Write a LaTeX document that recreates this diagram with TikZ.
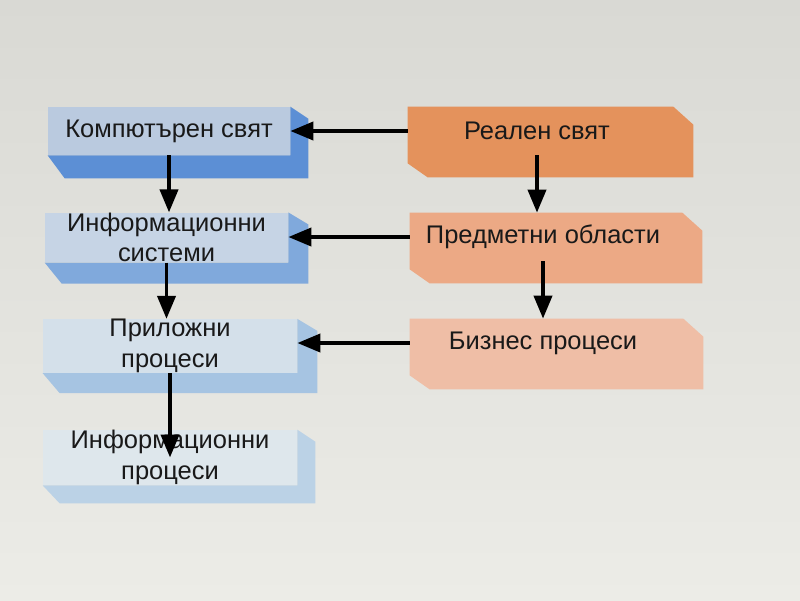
\documentclass[tikz,border=0pt]{standalone}
\usepackage{fontspec}
\setmainfont{Liberation Sans}
\usetikzlibrary{calc,arrows.meta,backgrounds}

\definecolor{bgtop}{HTML}{D9D9D4}
\definecolor{bgbot}{HTML}{ECECE7}
\definecolor{faceA}{HTML}{BACADF}
\definecolor{faceB}{HTML}{C6D4E5}
\definecolor{faceC}{HTML}{D4E0EA}
\definecolor{faceD}{HTML}{DEE7EC}
\definecolor{sideA}{HTML}{5C8FD5}
\definecolor{sideB}{HTML}{80A9DC}
\definecolor{sideC}{HTML}{A6C4E2}
\definecolor{sideD}{HTML}{BBD2E6}
\definecolor{realA}{HTML}{E4925C}
\definecolor{realB}{HTML}{ECA985}
\definecolor{realC}{HTML}{EFBEA6}

\def\px{0.02cm}

\begin{document}
\begin{tikzpicture}[x=0.02cm, y=-0.02cm]
\tikzstyle{every node}=[rectangle, inner sep=0pt, align=center, text=black!90,
                        font=\fontsize{14.5}{17.5}\selectfont]
\tikzstyle{comp}=[minimum width=#1*\px]
\tikzstyle{link}=[line width=2.2pt, -{Triangle[length=0.46cm,width=0.36cm]}]

% computer side
\node[comp=242, minimum height=48*\px, fill=faceA] (L1) at (169,131) {Компютърен свят};
\node[comp=243, minimum height=49*\px, fill=faceB] (L2) at (166.5,237.5) {Информационни\\системи};
\node[comp=254, minimum height=52*\px, fill=faceC] (L3) at (170,346) {Приложни\\процеси};
\node[comp=254, minimum height=55*\px, fill=faceD] (L4) at (170,457.5) {Информационни\\процеси};

% real side
\node[comp=258, minimum height=48*\px] (R1) at (537,131) {Реален свят};
\node[comp=266, minimum height=48*\px] (R2) at (543,237) {Предметни области};
\node[comp=266, minimum height=48*\px] (R3) at (543,343) {Бизнес процеси};

\begin{scope}[on background layer]
\fill[top color=bgtop, bottom color=bgbot] (0,0) rectangle (800,600);
\foreach \n/\c/\dx/\dy in {L1/sideA/18/23, L2/sideB/20/21, L3/sideC/20/20, L4/sideD/18/18}
  {\fill[\c] (\n.north east) -- ++(\dx,12) -- ($(\n.south east)+(\dx,\dy)$)
     -- ($(\n.south west)+(17,\dy)$) -- (\n.south west) -- (\n.south east) -- cycle;}
\foreach \n/\c/\dx in {R1/realA/27, R2/realB/26, R3/realC/27}
  {\fill[\c] (\n.north west) -- ($(\n.north east)+(\dx-20,0)$) -- ($(\n.north east)+(\dx,18)$)
     -- ($(\n.south east)+(\dx,22)$) -- ($(\n.south west)+(20,22)$)
     -- ($(\n.south west)+(0,8)$) -- cycle;}
\end{scope}

\foreach \i/\j in {R1/L1,R2/L2,R3/L3}{\draw[link] (\i.west) -- (\i.west -| \j.east);}
\foreach \i/\j in {L1/L2,L2/L3,R1/R2,R2/R3}{\draw[link] (\i.south) -- (\i.south |- \j.north);}
\draw[link] (L3.south) -- (L4.center);

\end{tikzpicture}
\end{document}
